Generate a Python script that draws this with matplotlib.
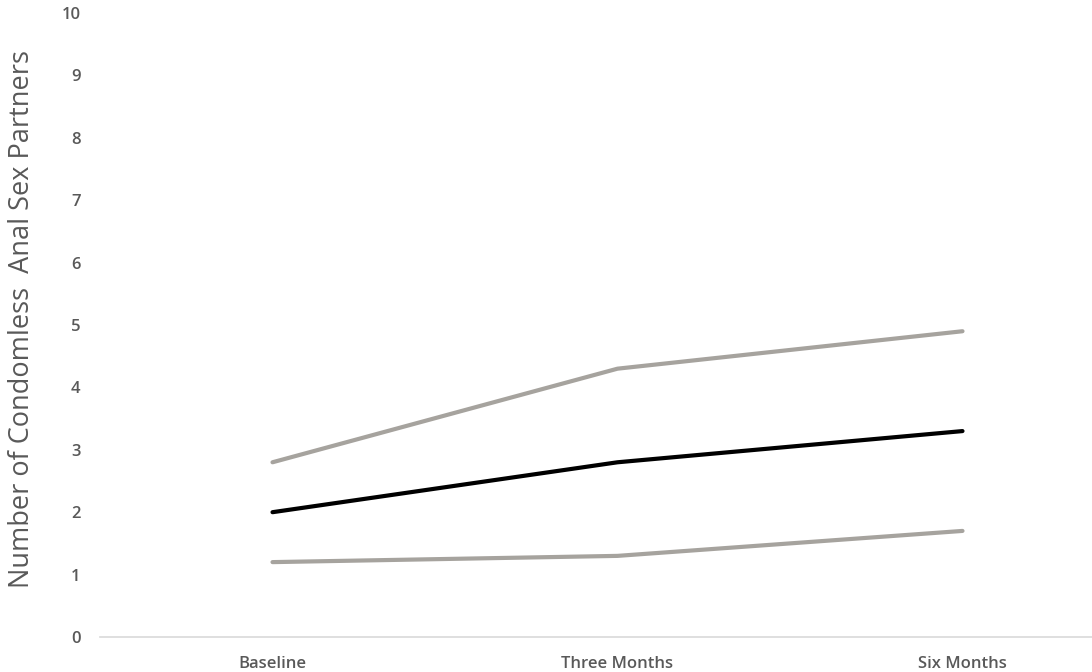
import matplotlib
matplotlib.use("Agg")
import matplotlib.pyplot as plt

plt.rcParams['font.family'] = ['Open Sans', 'DejaVu Sans']

timepoints = ["Baseline", "Three Months", "Six Months"]
upper_ci = [2.8, 4.3, 4.9]
mean_partners = [2.0, 2.8, 3.3]
lower_ci = [1.2, 1.3, 1.7]
y_ticks = list(range(0, 11))

TEXT = '#595959'
GRAY = '#a6a39e'

fig = plt.figure(figsize=(10.92, 6.72), dpi=100)
# axes run a little past the right edge so the last category sits off-centre
ax = fig.add_axes([100 / 1092, 35 / 672, 1035 / 1092, 624 / 672])

x = list(range(len(timepoints)))
ax.plot(x, upper_ci, color=GRAY, lw=3, solid_capstyle='round')
ax.plot(x, lower_ci, color=GRAY, lw=3, solid_capstyle='round')
ax.plot(x, mean_partners, color='black', lw=3, solid_capstyle='round')

ax.set_xlim(-0.5, 2.5)
ax.set_ylim(0, 10)
ax.set_xticks(x)
ax.set_xticklabels(timepoints)
ax.set_yticks(y_ticks)

for side in ['top', 'right', 'left']:
    ax.spines[side].set_visible(False)
ax.spines['bottom'].set_color('#d9d9d9')
ax.spines['bottom'].set_linewidth(1.2)

ax.tick_params(axis='both', length=0, labelsize=12, labelcolor=TEXT)
ax.tick_params(axis='y', pad=14)
ax.tick_params(axis='x', pad=14)
for lab in ax.get_xticklabels() + ax.get_yticklabels():
    lab.set_fontweight('semibold')

ax.set_ylabel('Number of Condomless  Anal Sex Partners', fontsize=19.5,
              color=TEXT)
ax.yaxis.set_label_coords(-64 / 1035, 0.51)

fig.savefig('out.png', dpi=100)
